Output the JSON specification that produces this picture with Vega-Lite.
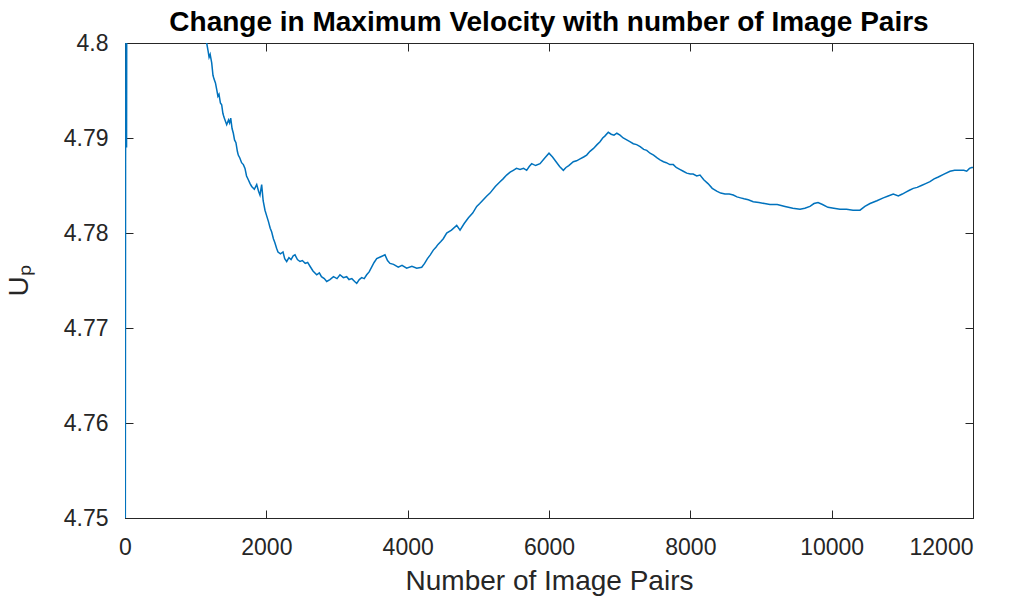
{
  "$schema": "https://vega.github.io/schema/vega-lite/v6.json",
  "width": 848,
  "height": 475,
  "autosize": {"type": "none"},
  "padding": {"left": 125, "top": 43, "right": 44, "bottom": 86},
  "background": "white",
  "config": {
    "view": {"stroke": "#262626", "strokeWidth": 1},
    "font": "Liberation Sans",
    "axis": {
      "grid": false,
      "domainColor": "#262626",
      "tickColor": "#262626",
      "labelColor": "#262626",
      "titleColor": "#262626",
      "labelFont": "Liberation Sans",
      "titleFont": "Liberation Sans",
      "labelFontSize": 23,
      "titleFontSize": 28,
      "titleFontWeight": "normal",
      "tickSize": -8
    }
  },
  "title": {
    "text": "Change in Maximum Velocity with number of Image Pairs",
    "font": "Liberation Sans",
    "fontSize": 28,
    "fontWeight": "bold",
    "color": "#000000",
    "offset": -5
  },
  "data": {
    "values": [
      {"n": 0, "u": 4.70},
      {"n": 8, "u": 4.7875},
      {"n": 15, "u": 4.805},
      {"n": 22, "u": 4.789},
      {"n": 30, "u": 4.83},
      {"n": 60, "u": 4.86},
      {"n": 200, "u": 4.85},
      {"n": 500, "u": 4.83},
      {"n": 800, "u": 4.815},
      {"n": 1000, "u": 4.806},
      {"n": 1156, "u": 4.8},
      {"n": 1175, "u": 4.7992},
      {"n": 1190, "u": 4.7985},
      {"n": 1205, "u": 4.7988},
      {"n": 1227, "u": 4.7979},
      {"n": 1245, "u": 4.7966},
      {"n": 1260, "u": 4.7962},
      {"n": 1280, "u": 4.7958},
      {"n": 1298, "u": 4.7951},
      {"n": 1315, "u": 4.7944},
      {"n": 1330, "u": 4.7946},
      {"n": 1350, "u": 4.7937},
      {"n": 1368, "u": 4.7935},
      {"n": 1385, "u": 4.7926},
      {"n": 1400, "u": 4.7922},
      {"n": 1420, "u": 4.7918},
      {"n": 1439, "u": 4.7914},
      {"n": 1465, "u": 4.7919},
      {"n": 1480, "u": 4.7916},
      {"n": 1496, "u": 4.7921},
      {"n": 1515, "u": 4.7910},
      {"n": 1533, "u": 4.7905},
      {"n": 1550, "u": 4.7898},
      {"n": 1570, "u": 4.7895},
      {"n": 1590, "u": 4.7886},
      {"n": 1603, "u": 4.7882},
      {"n": 1625, "u": 4.7879},
      {"n": 1650, "u": 4.7874},
      {"n": 1675, "u": 4.7872},
      {"n": 1698, "u": 4.7868},
      {"n": 1720, "u": 4.7860},
      {"n": 1745, "u": 4.7856},
      {"n": 1770, "u": 4.7852},
      {"n": 1793, "u": 4.7849},
      {"n": 1830, "u": 4.7846},
      {"n": 1864, "u": 4.7851},
      {"n": 1890, "u": 4.7844},
      {"n": 1910, "u": 4.7840},
      {"n": 1934, "u": 4.7851},
      {"n": 1955, "u": 4.7834},
      {"n": 1981, "u": 4.7824},
      {"n": 2005, "u": 4.7818},
      {"n": 2030, "u": 4.7812},
      {"n": 2055, "u": 4.7805},
      {"n": 2076, "u": 4.7801},
      {"n": 2100, "u": 4.7794},
      {"n": 2120, "u": 4.7790},
      {"n": 2145, "u": 4.7784},
      {"n": 2165, "u": 4.7780},
      {"n": 2200, "u": 4.7778},
      {"n": 2236, "u": 4.7780},
      {"n": 2260, "u": 4.7773},
      {"n": 2288, "u": 4.7770},
      {"n": 2320, "u": 4.7774},
      {"n": 2350, "u": 4.7772},
      {"n": 2380, "u": 4.7776},
      {"n": 2406, "u": 4.7777},
      {"n": 2440, "u": 4.7772},
      {"n": 2476, "u": 4.7770},
      {"n": 2510, "u": 4.7771},
      {"n": 2550, "u": 4.7768},
      {"n": 2585, "u": 4.7769},
      {"n": 2618, "u": 4.7765},
      {"n": 2660, "u": 4.7760},
      {"n": 2713, "u": 4.7756},
      {"n": 2750, "u": 4.7758},
      {"n": 2780, "u": 4.7754},
      {"n": 2820, "u": 4.7752},
      {"n": 2854, "u": 4.7749},
      {"n": 2900, "u": 4.7751},
      {"n": 2950, "u": 4.7754},
      {"n": 3000, "u": 4.7752},
      {"n": 3042, "u": 4.7756},
      {"n": 3090, "u": 4.7753},
      {"n": 3137, "u": 4.7754},
      {"n": 3170, "u": 4.7751},
      {"n": 3210, "u": 4.7752},
      {"n": 3250, "u": 4.7749},
      {"n": 3279, "u": 4.7747},
      {"n": 3315, "u": 4.7751},
      {"n": 3350, "u": 4.7753},
      {"n": 3385, "u": 4.7752},
      {"n": 3420, "u": 4.7756},
      {"n": 3455, "u": 4.7759},
      {"n": 3490, "u": 4.7764},
      {"n": 3525, "u": 4.7769},
      {"n": 3562, "u": 4.7773},
      {"n": 3620, "u": 4.7775},
      {"n": 3679, "u": 4.7777},
      {"n": 3715, "u": 4.7771},
      {"n": 3750, "u": 4.7768},
      {"n": 3800, "u": 4.7767},
      {"n": 3867, "u": 4.7764},
      {"n": 3920, "u": 4.7766},
      {"n": 3986, "u": 4.7763},
      {"n": 4060, "u": 4.7765},
      {"n": 4128, "u": 4.7763},
      {"n": 4199, "u": 4.7764},
      {"n": 4240, "u": 4.7768},
      {"n": 4280, "u": 4.7773},
      {"n": 4320, "u": 4.7777},
      {"n": 4363, "u": 4.7782},
      {"n": 4400, "u": 4.7785},
      {"n": 4430, "u": 4.7788},
      {"n": 4470, "u": 4.7791},
      {"n": 4504, "u": 4.7794},
      {"n": 4552, "u": 4.7800},
      {"n": 4620, "u": 4.7803},
      {"n": 4694, "u": 4.7808},
      {"n": 4741, "u": 4.7803},
      {"n": 4800, "u": 4.7810},
      {"n": 4860, "u": 4.7816},
      {"n": 4920, "u": 4.7821},
      {"n": 4977, "u": 4.7828},
      {"n": 5020, "u": 4.7831},
      {"n": 5070, "u": 4.7835},
      {"n": 5120, "u": 4.7839},
      {"n": 5165, "u": 4.7842},
      {"n": 5240, "u": 4.7849},
      {"n": 5307, "u": 4.7854},
      {"n": 5350, "u": 4.7857},
      {"n": 5400, "u": 4.7861},
      {"n": 5450, "u": 4.7864},
      {"n": 5495, "u": 4.7866},
      {"n": 5540, "u": 4.7868},
      {"n": 5590, "u": 4.7867},
      {"n": 5640, "u": 4.7868},
      {"n": 5684, "u": 4.7866},
      {"n": 5720, "u": 4.7870},
      {"n": 5755, "u": 4.7873},
      {"n": 5810, "u": 4.7871},
      {"n": 5873, "u": 4.7873},
      {"n": 5940, "u": 4.7879},
      {"n": 6000, "u": 4.7884},
      {"n": 6050, "u": 4.7880},
      {"n": 6100, "u": 4.7875},
      {"n": 6150, "u": 4.7870},
      {"n": 6203, "u": 4.7866},
      {"n": 6240, "u": 4.7869},
      {"n": 6280, "u": 4.7871},
      {"n": 6344, "u": 4.7875},
      {"n": 6390, "u": 4.7876},
      {"n": 6440, "u": 4.7878},
      {"n": 6490, "u": 4.7880},
      {"n": 6533, "u": 4.7882},
      {"n": 6580, "u": 4.7886},
      {"n": 6630, "u": 4.7889},
      {"n": 6680, "u": 4.7893},
      {"n": 6722, "u": 4.7896},
      {"n": 6760, "u": 4.7900},
      {"n": 6790, "u": 4.7902},
      {"n": 6839, "u": 4.7906},
      {"n": 6880, "u": 4.7904},
      {"n": 6920, "u": 4.7903},
      {"n": 6960, "u": 4.7905},
      {"n": 7005, "u": 4.7903},
      {"n": 7050, "u": 4.7900},
      {"n": 7100, "u": 4.7898},
      {"n": 7150, "u": 4.7896},
      {"n": 7193, "u": 4.7894},
      {"n": 7240, "u": 4.7893},
      {"n": 7290, "u": 4.7891},
      {"n": 7340, "u": 4.7888},
      {"n": 7383, "u": 4.7887},
      {"n": 7430, "u": 4.7884},
      {"n": 7480, "u": 4.7882},
      {"n": 7530, "u": 4.7879},
      {"n": 7571, "u": 4.7877},
      {"n": 7620, "u": 4.7875},
      {"n": 7660, "u": 4.7874},
      {"n": 7710, "u": 4.7872},
      {"n": 7759, "u": 4.7872},
      {"n": 7800, "u": 4.7869},
      {"n": 7850, "u": 4.7867},
      {"n": 7900, "u": 4.7865},
      {"n": 7949, "u": 4.7863},
      {"n": 8000, "u": 4.7862},
      {"n": 8040, "u": 4.7862},
      {"n": 8090, "u": 4.7860},
      {"n": 8137, "u": 4.7861},
      {"n": 8190, "u": 4.7856},
      {"n": 8250, "u": 4.7852},
      {"n": 8310, "u": 4.7847},
      {"n": 8373, "u": 4.7844},
      {"n": 8430, "u": 4.7842},
      {"n": 8490, "u": 4.7841},
      {"n": 8550, "u": 4.7841},
      {"n": 8608, "u": 4.7840},
      {"n": 8660, "u": 4.7838},
      {"n": 8710, "u": 4.7837},
      {"n": 8760, "u": 4.7836},
      {"n": 8820, "u": 4.7835},
      {"n": 8890, "u": 4.7833},
      {"n": 8970, "u": 4.7832},
      {"n": 9050, "u": 4.7831},
      {"n": 9127, "u": 4.7830},
      {"n": 9230, "u": 4.7830},
      {"n": 9340, "u": 4.7828},
      {"n": 9450, "u": 4.7826},
      {"n": 9552, "u": 4.7825},
      {"n": 9620, "u": 4.7826},
      {"n": 9693, "u": 4.7828},
      {"n": 9750, "u": 4.7831},
      {"n": 9807, "u": 4.7832},
      {"n": 9870, "u": 4.7830},
      {"n": 9948, "u": 4.7827},
      {"n": 10030, "u": 4.7826},
      {"n": 10118, "u": 4.7825},
      {"n": 10210, "u": 4.7825},
      {"n": 10302, "u": 4.7824},
      {"n": 10401, "u": 4.7824},
      {"n": 10470, "u": 4.7828},
      {"n": 10543, "u": 4.7831},
      {"n": 10640, "u": 4.7834},
      {"n": 10731, "u": 4.7837},
      {"n": 10800, "u": 4.7839},
      {"n": 10872, "u": 4.7841},
      {"n": 10943, "u": 4.7839},
      {"n": 11000, "u": 4.7841},
      {"n": 11050, "u": 4.7843},
      {"n": 11100, "u": 4.7845},
      {"n": 11155, "u": 4.7847},
      {"n": 11210, "u": 4.7848},
      {"n": 11270, "u": 4.7850},
      {"n": 11330, "u": 4.7852},
      {"n": 11391, "u": 4.7854},
      {"n": 11450, "u": 4.7857},
      {"n": 11509, "u": 4.7859},
      {"n": 11590, "u": 4.7862},
      {"n": 11675, "u": 4.7865},
      {"n": 11740, "u": 4.7866},
      {"n": 11816, "u": 4.7866},
      {"n": 11870, "u": 4.7866},
      {"n": 11911, "u": 4.7865},
      {"n": 11950, "u": 4.7868},
      {"n": 11982, "u": 4.7869},
      {"n": 12000, "u": 4.7869}
    ]
  },
  "layer": [
    {
      "mark": {"type": "line", "color": "#0072BD", "strokeWidth": 1.5, "clip": true},
      "encoding": {
        "x": {
          "field": "n", "type": "quantitative",
          "scale": {"domain": [0, 12000], "nice": false, "zero": false},
          "axis": {
            "values": [0, 2000, 4000, 6000, 8000, 10000, 12000],
            "format": "d",
            "title": "Number of Image Pairs",
            "labelFlush": false,
            "labelAlign": {"condition": {"test": "datum.value == 12000", "value": "right"}, "value": "center"},
            "labelPadding": 26,
            "titlePadding": 8
          }
        },
        "y": {
          "field": "u", "type": "quantitative",
          "scale": {"domain": [4.75, 4.8], "nice": false, "zero": false},
          "axis": {"values": [4.75, 4.76, 4.77, 4.78, 4.79, 4.8], "format": ".3~r", "title": "Uₚ", "labelPadding": 25, "titlePadding": 30}
        }
      }
    },
    {
      "mark": {"type": "line", "opacity": 0, "clip": true},
      "encoding": {
        "x": {
          "field": "n", "type": "quantitative",
          "axis": {"orient": "top", "values": [0, 2000, 4000, 6000, 8000, 10000, 12000], "labels": false, "title": null}
        },
        "y": {
          "field": "u", "type": "quantitative",
          "axis": {"orient": "right", "values": [4.75, 4.76, 4.77, 4.78, 4.79, 4.8], "labels": false, "title": null}
        }
      }
    }
  ],
  "resolve": {"axis": {"x": "independent", "y": "independent"}}
}
